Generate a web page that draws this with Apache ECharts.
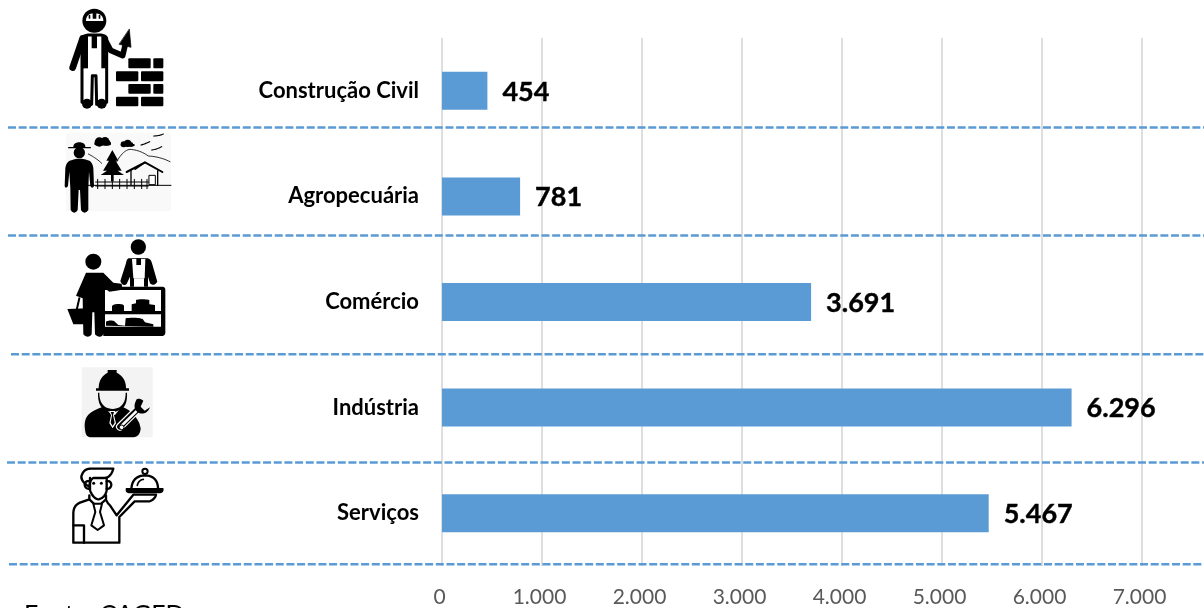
<!DOCTYPE html>
<html><head><meta charset="utf-8">
<style>html,body{margin:0;padding:0;background:#fff;overflow:hidden}#c{width:1204px;height:608px}</style>
<script src="https://cdn.jsdelivr.net/npm/echarts@6/dist/echarts.min.js"></script>
</head><body><div id="c"></div>
<script>
const categories = ['Construção Civil','Agropecuária','Comércio','Indústria','Serviços'];
const values = [454,781,3691,6296,5467];
const tickLabels = ['0','1.000','2.000','3.000','4.000','5.000','6.000','7.000'];
const sourceNote = 'Fonte: CAGED';

const FONT = 'Lato, Carlito, "Open Sans", sans-serif';
const BLUE = '#5B9BD5';
const fmt = v => String(v).replace(/\B(?=(\d{3})+$)/g,'.');

const K='#000', W='#fff';
// flattens a small M/L/Q/Z outline into graphic polygon / polyline elements
function P(d,fill,stroke,lw){
  const toks=d.match(/[MLQZ]|-?[\d.]+/g); const subs=[]; let cur=null,i=0,cmd='';
  while(i<toks.length){
    if(/[MLQZ]/.test(toks[i])){cmd=toks[i++]; if(cmd==='Z'){cur.closed=true;continue;}}
    if(cmd==='M'){cur={pts:[[+toks[i],+toks[i+1]]],closed:false};subs.push(cur);i+=2;cmd='L';}
    else if(cmd==='L'){cur.pts.push([+toks[i],+toks[i+1]]);i+=2;}
    else if(cmd==='Q'){const p0=cur.pts[cur.pts.length-1],c=[+toks[i],+toks[i+1]],e=[+toks[i+2],+toks[i+3]];i+=4;
      for(let s=1;s<=12;s++){const t=s/12,u=1-t;cur.pts.push([u*u*p0[0]+2*u*t*c[0]+t*t*e[0],u*u*p0[1]+2*u*t*c[1]+t*t*e[1]]);}}
  }
  return {type:'group',children:subs.map(s=>({type:s.closed?'polygon':'polyline',shape:{points:s.pts},
    style:{fill:s.closed?(fill||'none'):'none',stroke:stroke||'none',lineWidth:lw||0,lineCap:'round',lineJoin:'round'}}))};
}
const C=(cx,cy,r,fill,stroke,lw)=>({type:'circle',shape:{cx,cy,r},style:{fill:fill||K,stroke:stroke||'none',lineWidth:lw||0}});
const R=(x,y,width,height,fill,r)=>({type:'rect',shape:{x,y,width,height,r:r==null?3:r},style:{fill:fill||K}});
const icon=(x,y,children)=>({type:'group',x,y,scaleX:1/3,scaleY:1/3,silent:true,children});

const bricklayer = icon(60,5,[
  C(103,47,36),
  P('M78 48 Q78 25 103 25 Q130 25 130 48 Z',W),
  R(98,24,11,17,K,1),R(86,30,5,11,K,1),R(116,30,5,11,K,1),
  P('M68 100 L62 118 L38 188',null,K,20),
  P('M134 102 L152 136 L188 152 L196 118',null,K,17),
  P('M208 73 L213 127 L178 118 Z',K,K,2),
  P('M66 190 L66 100 Q70 90 90 90 L118 90 Q136 90 140 100 L140 292 L110 298 L108 212 L97 212 L95 298 L66 292 Z',W,K,9),
  P('M66 93 L84 93 L84 190 L66 190 Z',K),
  P('M124 93 L140 100 L140 190 L124 190 Z',K),
  R(95,92,16,38,K,1),
  C(81,296,15),C(125,296,15),
  R(205,160,67,30),R(280,160,30,30),
  R(168,199,67,30),R(243,199,67,30),
  R(205,237,67,29),R(280,237,30,29),
  R(168,275,67,29),R(243,275,67,29)
]);

const farmer = icon(55,130,[
  R(33,8,315,236,'#f9f9f9',0),
  C(150,34,13),C(133,36,14),C(157,38,9),R(118,36,50,10,K,4),
  C(218,40,11),C(206,43,9),C(228,44,7),R(197,42,42,7,K,3),
  P('M258 45 Q270 42 284 35 M296 18 Q310 18 325 12 M290 60 Q305 58 320 50',null,K,3.5),
  P('M100 72 Q125 85 140 100 M185 95 Q205 60 225 58 Q255 60 280 78 Q315 80 345 95',null,K,2.5),
  P('M172 60 L190 92 L182 92 L200 122 L188 122 L207 135 L137 135 L156 122 L144 122 L162 92 L154 92 Z',K),
  R(168,130,8,24,K,0),
  P('M215 126 L270 97 L322 126',null,K,6),
  P('M228 122 L228 166 M308 122 L308 166 M270 97 L240 118',null,K,4),
  P('M283 136 L301 136 L301 164 L283 164 Z',W,K,3),
  P('M100 166 L348 166',null,K,3),
  P('M122 156 L280 156 M122 168 L280 168 M128 148 L128 176 M150 148 L150 176 M172 148 L172 176 M194 148 L194 176 M216 148 L216 176 M238 148 L238 176 M260 148 L260 176 M276 148 L276 176',null,K,3),
  P('M41 53 L106 53',null,K,4),
  P('M55 53 Q54 37 73 37 Q92 37 91 53 Z',K),
  C(73,68,17),
  P('M52 90 Q73 82 96 90 Q112 92 115 115 L117 168 Q112 178 106 168 L102 125 L100 175 L100 240 Q88 256 78 240 L75 180 L71 180 L68 240 Q58 256 47 240 L46 175 L43 125 L39 168 Q32 178 29 168 L31 115 Q34 92 52 90 Z',K)
]);

const commerce = icon(60,235,[
  P('M130 155 L305 155 Q316 155 316 165 L316 292 Q316 303 305 303 L130 303 Z',K),
  R(135,165,168,63,W,0),R(135,238,168,37,W,0),
  P('M156 228 L156 213 Q160 207 175 207 Q192 207 192 213 L192 228 Z M215 228 L215 208 L228 205 L228 195 Q245 190 268 195 L268 208 L285 210 L285 228 Z',K),
  P('M138 272 L138 260 Q150 254 162 258 L175 270 L195 272 L197 250 Q225 245 248 252 L255 262 L280 268 L280 275 Z',K),
  C(235,36,23),
  P('M207 70 L262 70 Q272 70 276 85 L292 140 Q282 156 270 145 L264 125 L264 155 L252 155 L252 130 L222 130 L222 155 L210 155 L210 125 L200 147 Q188 156 181 138 L198 85 Q200 70 207 70 Z',K),
  P('M216 72 L256 72 L254 130 L220 130 Z',W),
  R(229,70,14,20,K,1),
  C(100,80,24),
  P('M78 113 L130 113 L160 143 L184 146 Q190 158 178 166 L148 170 L134 160 L132 295 Q122 314 105 298 L103 232 L97 232 L95 298 Q84 312 70 298 L68 190 L48 182 Z',K),
  P('M58 190 L50 225',null,K,6),
  P('M22 222 L84 220 L78 268 L40 268 Z',K)
]);

const engineer = icon(70,360,[
  R(35,22,213,210,'#f3f3f3',0),
  P('M86 85 Q86 52 113 38 L113 30 L140 30 L140 38 Q168 52 168 85 L177 85 L177 92 L78 92 L78 85 Z',K),
  P('M88 98 Q88 145 128 147 Q167 145 167 98 L171 98 Q173 140 150 150 L128 158 L105 150 Q83 140 84 98 Z',K),
  P('M46 215 Q40 185 52 168 Q66 150 102 140 L125 165 L135 165 L155 140 Q190 152 208 190 L212 205 Q210 232 187 232 L65 232 Q48 232 46 215 Z',K),
  P('M118 153 L136 153 L132 166 L138 190 L128 205 L118 190 L123 166 Z',W),
  P('M122 156 L132 156 L129 166 L134 188 L128 198 L122 188 L126 166 Z',K),
  P('M150 200 L205 146',null,W,24),
  P('M150 200 L205 146',null,K,17),
  P('M152 200 L205 148',null,W,8),
  P('M200 118 Q185 145 205 158 Q228 168 240 142 L224 152 L212 140 L220 122 Q208 113 200 118 Z',K),
  C(155,202,7,W,K,3)
]);

const waiter = icon(60,462,[
  P('M88 74 Q64 60 64 44 Q70 20 92 20 L160 20 Q152 48 132 48 L100 48 Q90 52 88 74 Z',W,K,7),
  P('M88 58 Q76 55 74 68 Q76 82 90 80 M140 58 Q152 55 154 68 Q152 82 140 80',null,K,7),
  P('M90 48 L90 85 Q100 110 115 112 Q135 108 140 85 L140 48',null,K,7),
  C(101,64,4.5),C(124,64,4.5),
  P('M88 100 L88 112 L112 135 L138 112 L138 100',null,K,7),
  P('M100 125 L126 125 L120 150 L132 190 L113 204 L94 190 L106 150 Z',W,K,6),
  P('M88 112 L60 122 Q40 130 40 155 L40 242 L178 242 L178 165 L224 118 L268 118 Q285 112 288 98 L220 98 L170 160 L150 130 Q140 120 138 112',null,K,7),
  P('M40 190 L72 190 L72 242',null,K,7),
  P('M214 88 Q213 42 255 40 Q297 42 294 88 Z',W,K,7),
  P('M232 70 Q235 55 250 52',null,K,5),
  C(255,28,8,W,K,6),
  P('M198 78 L310 78 Q314 94 295 94 L212 94 Q193 94 198 78 Z',K)
]);

const separators = [[8,127.4],[8,235.4],[11,354.3],[7,462.4],[9,564.2]].map(([x,y])=>({
  type:'line',z:20,silent:true,shape:{x1:x,y1:y,x2:1204,y2:y},
  style:{stroke:BLUE,lineWidth:2.5,lineDash:[8,2.67]}
}));

const chart = echarts.init(document.getElementById('c'),null,{renderer:'canvas'});
chart.setOption({
  animation:false,
  backgroundColor:'#fff',
  grid:{left:442,right:62,top:38,bottom:40,containLabel:false},
  xAxis:{type:'value',min:0,max:7000,interval:1000,
    axisLine:{show:false},axisTick:{show:false},
    splitLine:{show:true,lineStyle:{color:'#DEDEDE',width:2}},
    axisLabel:{color:'#595959',fontFamily:FONT,fontSize:21,margin:21,padding:[0,5,0,0],
      formatter:(v,i)=>tickLabels[i]}},
  yAxis:{type:'category',inverse:true,data:categories,
    axisLine:{show:false},axisTick:{show:false},splitLine:{show:false},
    axisLabel:{color:'#000',fontFamily:FONT,fontWeight:'bold',fontSize:22,margin:23,padding:[3,0,0,0]}},
  series:[{type:'bar',data:values,barWidth:38,
    itemStyle:{color:BLUE},
    label:{show:true,position:'right',distance:15,offset:[0,1],color:'#000',fontFamily:FONT,fontWeight:'bold',fontSize:27,
      textBorderColor:'#000',textBorderWidth:0.4,
      formatter:p=>fmt(p.value)}}],
  graphic:[...separators,bricklayer,farmer,commerce,engineer,waiter,
    {type:'text',x:24,y:602,silent:true,style:{text:sourceNote,fill:'#000',font:'25px '+FONT}}]
});
</script></body></html>
